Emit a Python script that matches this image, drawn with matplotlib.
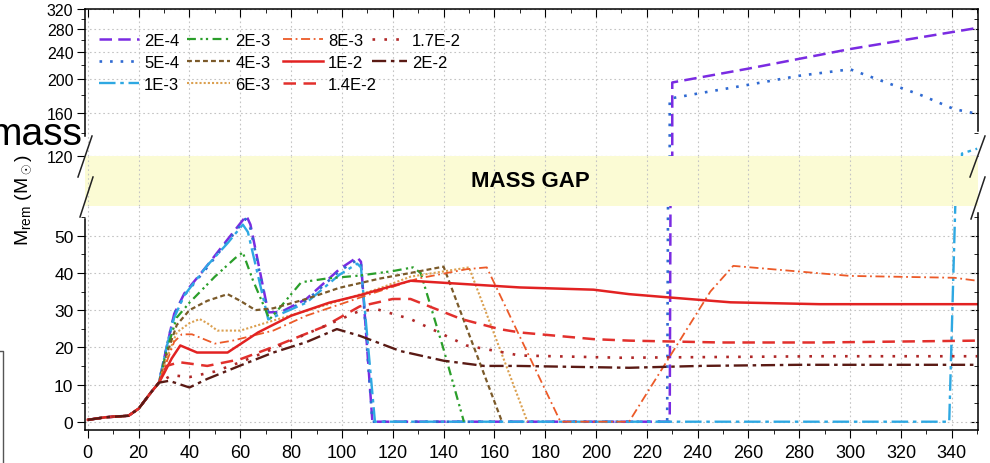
import numpy as np
import matplotlib
matplotlib.use("Agg")
import matplotlib.pyplot as plt
from matplotlib.lines import Line2D
from matplotlib.legend import Legend
from matplotlib.ticker import FixedLocator, NullFormatter, MultipleLocator

plt.rcParams['font.family'] = ['Liberation Sans', 'DejaVu Sans']
plt.rcParams['mathtext.fontset'] = 'custom'
plt.rcParams['mathtext.rm'] = 'Liberation Sans'
plt.rcParams['mathtext.it'] = 'Liberation Sans:italic'

# shared start of every track
x_start = [0, 7, 16, 20, 25, 28]
y_start = [0.5, 1.2, 1.6, 3.5, 8, 10.5]

labels = ['2E-4', '5E-4', '1E-3', '2E-3', '4E-3', '6E-3',
          '8E-3', '1E-2', '1.4E-2', '1.7E-2', '2E-2']

x_2e4 = [31, 34, 38, 47, 55, 62.4, 64, 71, 76, 86, 99, 106, 107.5, 112, 229, 230, 260, 300, 350]
y_2e4 = [20, 29, 34.5, 42, 49, 55.4, 53, 29.4, 29.5, 33, 41, 44.2, 43, 0, 0, 196, 215, 245, 282]

x_5e4 = [31, 34, 38, 47, 55, 62, 64, 71, 76, 86, 99, 106, 107.5, 112, 228, 229, 240, 260, 280, 300, 315, 328, 341, 350]
y_5e4 = [20, 29, 34, 41.5, 48.5, 54.5, 52, 29, 29.3, 32.5, 40.5, 43.5, 42.5, 0, 0, 176, 182, 193, 205, 214, 195, 180, 164, 159]

x_1e3 = [31, 34, 38, 47, 55, 61, 63, 71, 76, 86, 99, 106, 107.5, 113, 339, 344, 350]
y_1e3 = [20, 28, 34, 42, 48, 53, 51, 27.5, 29, 32, 39.5, 42.5, 41.5, 0, 0, 122, 126]

x_2e3 = [31, 35, 40, 50, 58, 61, 65, 70, 71.5, 76, 84, 94, 107, 120, 128, 131, 140, 148]
y_2e3 = [19, 28, 32, 39, 44, 45.5, 38, 30, 27.5, 31, 37.5, 38.5, 39.3, 40.5, 41.5, 40, 19.5, 0]

x_4e3 = [31, 35, 40, 47, 55, 60, 66, 73, 86, 99, 115, 127, 140, 163]
y_4e3 = [18, 26, 30, 32.5, 34.3, 32.5, 30, 30.5, 33, 36, 38.5, 40, 41.7, 0]

x_6e3 = [31, 35, 40, 44, 47, 51, 60, 73, 86, 99, 115, 127, 150, 173]
y_6e3 = [17, 24, 26.5, 27.6, 26.5, 24.5, 24.5, 27.2, 29.8, 32.5, 35.9, 39, 41.5, 0]

x_8e3 = [31, 34, 37, 41, 50, 57, 73, 86, 99, 112, 130, 149, 157, 186, 213, 245, 254, 300, 341, 350]
y_8e3 = [16, 21.5, 23.5, 23.5, 21, 21.8, 24.5, 28.5, 31.5, 34.5, 38.5, 41, 41.5, 0, 0, 35, 41.9, 39.2, 38.7, 37.9]

x_1e2 = [30, 33, 36.4, 43, 55, 67, 80, 95, 107, 127, 170, 199, 213, 229, 253, 288, 350]
y_1e2 = [13, 17, 20.5, 18.6, 18.6, 24, 28.5, 32, 34, 37.9, 36.1, 35.5, 34.3, 33.4, 32.1, 31.6, 31.6]

x_14e2 = [31, 36, 47, 60, 73, 93, 107, 120, 127, 147, 162, 170, 199, 213, 249, 288, 350]
y_14e2 = [15, 16, 15, 16.8, 20.1, 25.6, 31, 33, 33, 27.6, 24.9, 24, 22.2, 21.8, 21.3, 21.3, 21.8]

x_17e2 = [33, 40, 50, 60, 73, 84, 107, 114, 127, 149, 170, 210, 288, 350]
y_17e2 = [12.5, 12, 13.5, 16, 19.6, 23, 29.8, 30.2, 27.6, 20.5, 17.8, 17.2, 17.6, 17.6]

x_2e2 = [32, 40, 47, 60, 73, 86, 98, 107, 123, 140, 156, 169, 213, 241, 280, 350]
y_2e2 = [11, 9.2, 11.5, 15.1, 18.6, 21.4, 24.9, 23.1, 19, 16.4, 15, 15, 14.5, 15, 15.3, 15.3]

series_x = [x_2e4, x_5e4, x_1e3, x_2e3, x_4e3, x_6e3, x_8e3, x_1e2, x_14e2, x_17e2, x_2e2]
series_y = [y_2e4, y_5e4, y_1e3, y_2e3, y_4e3, y_6e3, y_8e3, y_1e2, y_14e2, y_17e2, y_2e2]

colors = ['#7a2be2', '#2f6ad2', '#2ea8e2', '#2a9e2a', '#7b5a2a', '#dba050',
          '#ec5a28', '#e22222', '#e2302c', '#b02828', '#5a1a14']
styles = [(0, (5, 2.5)), (0, (1, 3)), (0, (7, 2, 1.5, 2)), (0, (4, 2, 1, 1.5, 1, 2)),
          (0, (2.2, 1.4)), (0, (1, 1)), (0, (5, 2, 1, 2)), '-', (0, (5, 3)),
          (0, (1, 3.5)), (0, (6, 2, 1.5, 2))]
widths = [1.8, 1.9, 1.7, 1.6, 1.6, 1.5, 1.3, 1.8, 1.8, 1.9, 1.7]

fig = plt.figure(figsize=(9.9, 4.64), dpi=100)
L = 84.5 / 990
W = (977.7 - 84.5) / 990
ax_up = fig.add_axes([L, 1 - 157 / 464, W, 147 / 464])
ax_mid = fig.add_axes([L, 1 - 207 / 464, W, 50 / 464])
ax_lo = fig.add_axes([L, 1 - 430.7 / 464, W, 223.7 / 464])

grid_kw = dict(color='#c4c4c4', linestyle=(0, (1.5, 2.5)), linewidth=0.8)

handles = []
for ax in (ax_up, ax_lo):
    for xs, ys, c, ls, lw, lab in zip(series_x, series_y, colors, styles, widths, labels):
        ln, = ax.plot(x_start + xs, y_start + ys, color=c, linestyle=ls, linewidth=lw, label=lab)
        if ax is ax_up:
            handles.append(ln)
    ax.set_xlim(-1.3, 350.2)
    ax.xaxis.set_major_locator(MultipleLocator(20))
    ax.xaxis.set_minor_locator(MultipleLocator(10))
    ax.grid(True, which='major', **grid_kw)
    ax.tick_params(right=False)

# upper panel (log)
ax_up.set_yscale('log')
ax_up.set_ylim(120, 320)
ax_up.yaxis.set_major_locator(FixedLocator([120, 160, 200, 240, 280, 320]))
ax_up.yaxis.set_minor_locator(FixedLocator([140, 180, 220, 260, 300]))
ax_up.set_yticklabels(['120', '160', '200', '240', '280', '320'])
ax_up.yaxis.set_minor_formatter(NullFormatter())
ax_up.spines['bottom'].set_visible(False)
ax_up.tick_params(axis='x', which='both', direction='in', top=True, bottom=False,
                  labelbottom=False)
ax_up.tick_params(axis='x', which='major', length=6)
ax_up.tick_params(axis='x', which='minor', length=3)
ax_up.tick_params(axis='y', which='both', direction='out', labelsize=11.5, pad=2)
ax_up.tick_params(axis='y', which='major', length=6)
ax_up.tick_params(axis='y', which='minor', length=3)
ax_up.spines['left'].set_bounds(137.3, 320)
ax_up.spines['right'].set_bounds(142, 320)
sec_up = ax_up.secondary_yaxis('right')
sec_up.set_yticks([120, 160, 200, 240, 280, 320])
sec_up.yaxis.set_minor_locator(FixedLocator([140, 180, 220, 260, 300]))
sec_up.tick_params(which='both', direction='in', labelright=False)
sec_up.tick_params(which='major', length=6)
sec_up.tick_params(which='minor', length=3)
sec_up.spines['right'].set_visible(False)

# lower panel (linear)
ax_lo.set_ylim(-2.15, 58)
ax_lo.set_yticks([0, 10, 20, 30, 40, 50])
ax_lo.yaxis.set_minor_locator(MultipleLocator(5))
ax_lo.spines['top'].set_visible(False)
ax_lo.tick_params(axis='x', which='both', direction='out', top=False, labelsize=13, pad=4)
ax_lo.tick_params(axis='x', which='major', length=6)
ax_lo.tick_params(axis='x', which='minor', length=3)
ax_lo.tick_params(axis='y', which='both', direction='out', labelsize=12.5, pad=2)
ax_lo.tick_params(axis='y', which='major', length=6)
ax_lo.tick_params(axis='y', which='minor', length=3)
ax_lo.spines['left'].set_bounds(-2.15, 54.5)
ax_lo.spines['right'].set_bounds(-2.15, 56)
sec_lo = ax_lo.secondary_yaxis('right')
sec_lo.set_yticks([0, 10, 20, 30, 40, 50])
sec_lo.yaxis.set_minor_locator(MultipleLocator(5))
sec_lo.tick_params(which='both', direction='in', labelright=False)
sec_lo.tick_params(which='major', length=6)
sec_lo.tick_params(which='minor', length=3)
sec_lo.spines['right'].set_visible(False)

# mass gap band
ax_mid.set_facecolor('#fbfbd4')
ax_mid.set_xlim(-1.3, 350.2)
ax_mid.set_ylim(0, 1)
ax_mid.xaxis.set_major_locator(MultipleLocator(20))
ax_mid.set_yticks([])
ax_mid.tick_params(axis='x', length=0, labelbottom=False)
ax_mid.grid(True, axis='x', **grid_kw)
for s in ax_mid.spines.values():
    s.set_visible(False)
ax_mid.text(174, 0.5, 'MASS GAP', ha='center', va='center',
            fontsize=16, fontweight='bold')

for ax in (ax_up, ax_mid, ax_lo):
    for s in ax.spines.values():
        s.set_linewidth(1.1)

# legend: one column per legend box so the column starts match
col_groups = [(0, 3, 99, 2.4), (3, 6, 187, 2.6), (6, 9, 283, 2.4), (9, 11, 372, 2.1)]
for i0, i1, px, hl in col_groups:
    leg = Legend(ax_up, handles[i0:i1], labels[i0:i1], loc='upper left',
                 bbox_to_anchor=((px - 84.5) / 893.2, 0.835), ncol=1, frameon=False,
                 fontsize=12, handlelength=hl, handletextpad=0.3,
                 labelspacing=0.41, borderpad=0, borderaxespad=0)
    ax_up.add_artist(leg)

fig.text(24 / 990, 1 - 200 / 464, r'M$_{\rm rem}$ (M$_\odot$)', rotation=90,
         ha='center', va='center', fontsize=14)

# axis break marks
for x0, y0, x1, y1 in [(92, 137, 78, 178), (93, 178, 80, 218),
                       (985, 137, 970, 178), (985, 178, 971, 220)]:
    fig.add_artist(Line2D([x0 / 990, x1 / 990], [1 - y0 / 464, 1 - y1 / 464],
                          transform=fig.transFigure, color='#222222', lw=1.1))

# cropping leftovers at the left edge
fig.text(82 / 990, 1 - 145 / 464, 'mass', ha='right', va='baseline', fontsize=28)
fig.add_artist(Line2D([0, 3 / 990, 3 / 990], [1 - 352 / 464, 1 - 352 / 464, 0],
                      transform=fig.transFigure, color='#555555', lw=1))

fig.savefig('out.png', dpi=100)
